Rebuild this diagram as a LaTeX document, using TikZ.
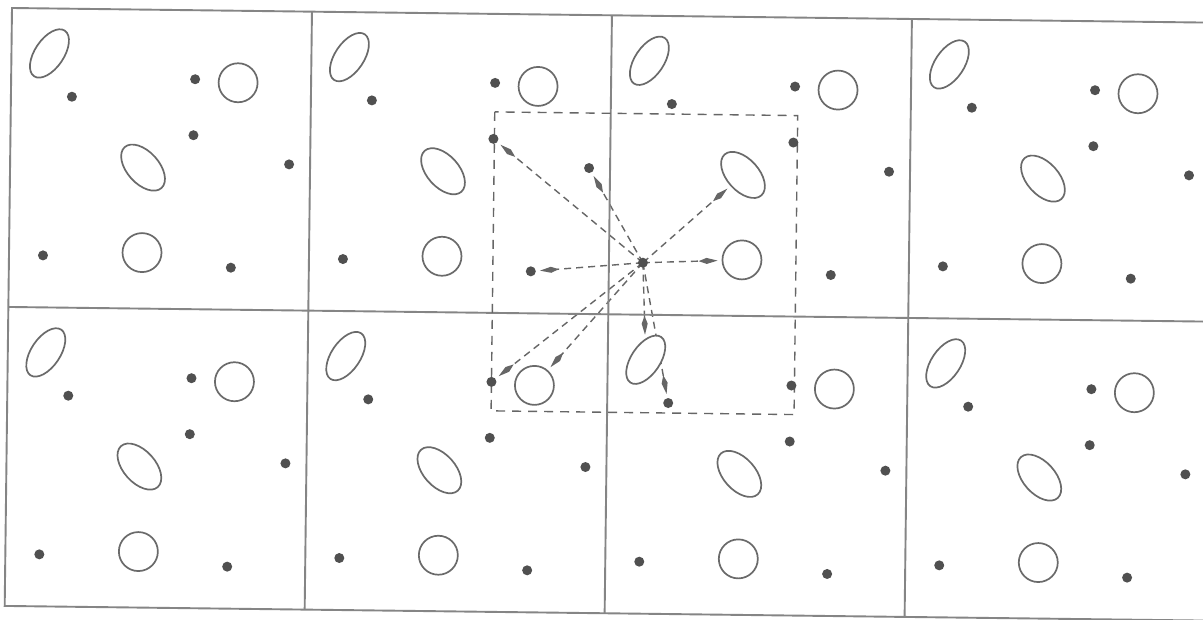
\documentclass[tikz,border=0pt]{standalone}
\usetikzlibrary{shapes.geometric,arrows.meta,backgrounds}
\definecolor{gridgray}{HTML}{858585}
\definecolor{partgray}{HTML}{6A6A6A}
\definecolor{dotgray}{HTML}{505050}
\definecolor{dashgray}{HTML}{666666}
\tikzset{
  cellline/.style={draw=gridgray, line width=1.9pt},
  particle/.style={draw=partgray, line width=1.7pt, fill=white, inner sep=0pt},
  ring/.style={particle, circle, minimum size=39pt},
  ellA/.style={particle, ellipse, minimum width=55pt, minimum height=29pt, rotate=56},
  ellB/.style={particle, ellipse, minimum width=55pt, minimum height=32pt, rotate=-48},
  dotp/.style={circle, fill=dotgray, minimum size=10pt, inner sep=0pt},
  boxline/.style={draw=dashgray, line width=1.4pt, dash pattern=on 9pt off 7pt},
  imgarrow/.style={draw=dashgray, line width=1.4pt, dash pattern=on 7pt off 5pt,
    -{Kite[length=19pt,width=6pt,inset=8pt]}, shorten >=4pt},
}
\begin{document}
\begin{tikzpicture}[x=1pt,y=-1pt]
\useasboundingbox (0,0) rectangle (1203,620);
\begin{pgfonlayer}{background}
  \fill[white] (0,0) rectangle (1203,620);
\end{pgfonlayer}
\clip (0,0) rectangle (1203,620);
\begin{scope}[rotate around={-0.7:(12,8)}]
  % periodic cells
  \draw[cellline] (12,8) rectangle (1212,606);
  \draw[cellline] (12,307) -- (1212,307);
  \foreach \x in {312,612,912} \draw[cellline] (\x,8) -- (\x,606);
  % central cut-off box
  \draw[boxline] (496,106) rectangle (799,405);
  % particles in every image cell
  \foreach \r in {0,1} {
    \foreach \c in {0,1,2,3} {
      \begin{scope}[shift={({12+300*\c},{8+299*\r})}]
        \node[ellA] (A\r\c) at (38,45) {};
        \node[dotp] (B\r\c) at (61,88) {};
        \node[dotp] (C\r\c) at (184,69) {};
        \node[ring] (D\r\c) at (227,72) {};
        \node[dotp] (E\r\c) at (183,125) {};
        \node[ellB] (F\r\c) at (133,158) {};
        \node[dotp] (G\r\c) at (279,153) {};
        \node[dotp] (H\r\c) at (34,247) {};
        \node[ring] (I\r\c) at (133,243) {};
        \node[dotp] (J\r\c) at (222,257) {};
      \end{scope}
    }
  }
\end{scope}
% minimum-image vectors from the central particle
\begin{pgfonlayer}{background}
  \foreach \t in {E01,G01,F02,I02,J01,C11,D11,A12,B12}
    \draw[imgarrow] (H02.center) -- (\t);
\end{pgfonlayer}
\end{tikzpicture}
\end{document}
